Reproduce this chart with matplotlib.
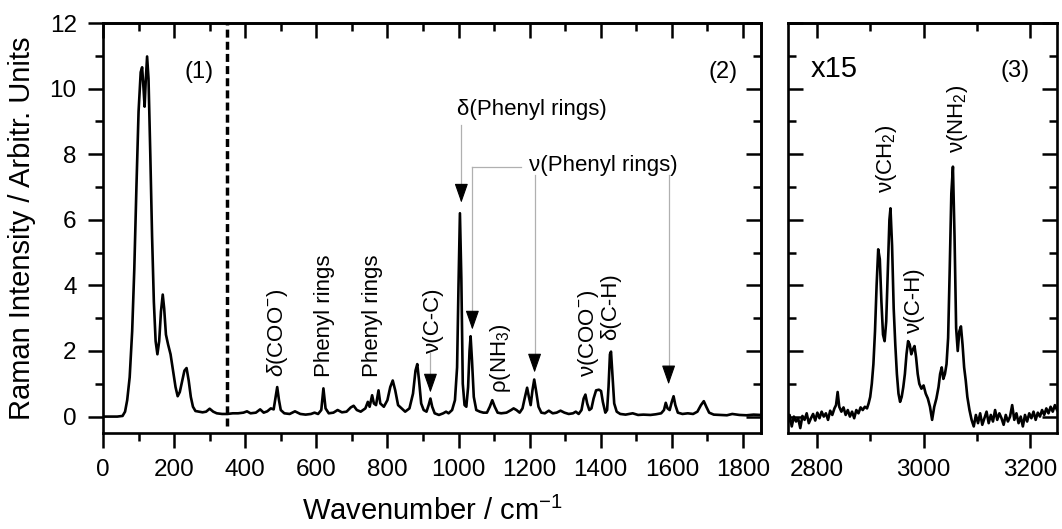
import matplotlib
matplotlib.use('Agg')
import matplotlib.pyplot as plt
from matplotlib.ticker import MultipleLocator

plt.rcParams['font.family'] = ['Liberation Sans', 'DejaVu Sans']
plt.rcParams['mathtext.fontset'] = 'custom'
plt.rcParams['mathtext.rm'] = 'Liberation Sans'
plt.rcParams['mathtext.it'] = 'Liberation Sans:italic'
plt.rcParams['axes.linewidth'] = 1.9

# Low wavenumber region
wn_low = [0, 40, 55, 62, 68, 75, 82, 88, 94, 100, 106, 110, 114, 117, 120, 124, 128, 133,
          138, 143, 148, 153, 158, 163, 168, 172, 177, 183, 190, 197, 204, 210, 216, 222,
          229, 235, 241, 247, 253, 260, 270, 280, 290, 300, 310, 320, 335, 350, 365, 380,
          395, 405, 415, 430, 442, 452, 462, 472, 480, 485, 490, 495, 500, 510, 525, 540,
          555, 570, 585, 595, 605, 614, 620, 626, 635, 648, 660, 672, 685, 697, 705, 714,
          725, 738, 745, 750, 757, 762, 768, 775, 780, 790, 800, 808, 815, 822, 830, 840,
          850, 862, 872, 879, 884, 889, 895, 902, 910, 916, 921, 926, 933, 945, 957, 965,
          972, 982, 990, 996, 1000, 1004, 1008, 1012, 1017, 1022, 1027, 1031, 1034, 1038,
          1043, 1050, 1060, 1070, 1080, 1088, 1095, 1102, 1110, 1120, 1135, 1148, 1155,
          1163, 1172, 1180, 1186, 1193, 1198, 1203, 1208, 1213, 1218, 1225, 1233, 1243,
          1254, 1265, 1276, 1287, 1298, 1310, 1322, 1330, 1338, 1346, 1352, 1357, 1362,
          1368, 1374, 1380, 1387, 1395, 1401, 1406, 1413, 1418, 1422, 1426, 1429, 1433,
          1438, 1445, 1455, 1470, 1490, 1505, 1520, 1540, 1555, 1570, 1578, 1583, 1588,
          1594, 1600, 1605, 1610, 1617, 1630, 1645, 1660, 1672, 1682, 1690, 1697, 1705,
          1718, 1735, 1755, 1770, 1790, 1810, 1830, 1850]
int_low = [0.0, 0.0, 0.02, 0.15, 0.5, 1.2, 2.6, 4.5, 7.0, 9.3, 10.5, 10.65, 10.0, 9.45, 10.2,
           10.98, 10.3, 8.0, 5.5, 3.5, 2.3, 1.9, 2.3, 3.2, 3.72, 3.3, 2.5, 2.2, 1.9, 1.4, 0.9,
           0.62, 0.75, 1.05, 1.4, 1.48, 1.1, 0.6, 0.3, 0.17, 0.15, 0.13, 0.15, 0.24, 0.15,
           0.1, 0.08, 0.08, 0.1, 0.1, 0.12, 0.16, 0.1, 0.12, 0.22, 0.12, 0.16, 0.25, 0.22,
           0.55, 0.9, 0.5, 0.2, 0.1, 0.08, 0.16, 0.08, 0.06, 0.08, 0.12, 0.08, 0.2, 0.86,
           0.25, 0.1, 0.12, 0.2, 0.13, 0.15, 0.28, 0.33, 0.2, 0.15, 0.25, 0.45, 0.3, 0.65,
           0.4, 0.35, 0.8, 0.4, 0.3, 0.5, 0.9, 1.1, 0.8, 0.35, 0.25, 0.15, 0.25, 0.7, 1.4,
           1.6, 1.1, 0.4, 0.2, 0.15, 0.35, 0.55, 0.3, 0.1, 0.05, 0.1, 0.15, 0.1, 0.2, 0.5,
           1.5, 4.0, 6.2, 4.2, 1.0, 0.35, 0.3, 0.9, 2.0, 2.45, 1.7, 0.6, 0.2, 0.15, 0.12,
           0.12, 0.3, 0.5, 0.3, 0.12, 0.1, 0.12, 0.2, 0.25, 0.2, 0.12, 0.25, 0.55, 0.88, 0.6,
           0.35, 0.8, 1.13, 0.8, 0.3, 0.12, 0.1, 0.18, 0.1, 0.12, 0.18, 0.12, 0.08, 0.1, 0.15,
           0.08, 0.2, 0.55, 0.67, 0.4, 0.2, 0.25, 0.55, 0.8, 0.82, 0.78, 0.45, 0.12, 0.2, 0.9,
           1.9, 1.98, 1.3, 0.4, 0.15, 0.08, 0.06, 0.1, 0.05, 0.06, 0.05, 0.07, 0.1, 0.2, 0.42,
           0.25, 0.2, 0.45, 0.62, 0.35, 0.12, 0.08, 0.1, 0.08, 0.15, 0.35, 0.47, 0.3, 0.12,
           0.06, 0.05, 0.04, 0.08, 0.05, 0.04, 0.06, 0.05]

# C-H / N-H stretching region, already scaled x15
wn_high = [2745, 2749, 2753, 2757, 2761, 2765, 2769, 2773, 2777, 2781, 2785, 2789, 2793, 2797,
           2801, 2805, 2809, 2813, 2817, 2821, 2825, 2829, 2833, 2836, 2839, 2842, 2846, 2850,
           2854, 2858, 2862, 2866, 2870, 2874, 2878, 2882, 2886, 2890, 2894, 2897, 2900, 2903,
           2906, 2909, 2912, 2915, 2918, 2921, 2924, 2927, 2930, 2933, 2936, 2938, 2941, 2944,
           2947, 2950, 2953, 2956, 2959, 2962, 2965, 2968, 2971, 2974, 2977, 2980, 2983, 2986,
           2989, 2992, 2996, 3000, 3004, 3008, 3012, 3016, 3020, 3024, 3028, 3031, 3034, 3037,
           3040, 3043, 3046, 3049, 3052, 3055, 3058, 3061, 3064, 3067, 3070, 3073, 3076, 3079,
           3082, 3086, 3090, 3094, 3098, 3102, 3106, 3110, 3114, 3118, 3122, 3126, 3130, 3134,
           3138, 3142, 3146, 3150, 3154, 3158, 3162, 3166, 3170, 3174, 3178, 3182, 3186, 3190,
           3194, 3198, 3202, 3206, 3210, 3214, 3218, 3222, 3226, 3230, 3234, 3238, 3242, 3246,
           3250]
int_high = [-0.25, 0.05, -0.3, 0.0, -0.15, -0.05, -0.35, 0.02, -0.1, 0.1, -0.2, -0.05, 0.08,
            -0.12, 0.12, -0.05, 0.15, 0.0, 0.1, -0.1, 0.18, 0.05, 0.25, 0.35, 0.75, 0.3, 0.15,
            0.28, 0.05, 0.2, 0.0, 0.15, -0.05, 0.2, 0.1, 0.28, 0.2, 0.3, 0.25, 0.4, 0.6, 1.0,
            1.6, 2.6, 4.0, 5.1, 4.8, 3.5, 2.5, 2.3, 2.9, 4.5, 6.0, 6.35, 5.2, 3.3, 2.2, 1.3,
            0.7, 0.45, 0.6, 0.9, 1.3, 1.9, 2.3, 2.2, 1.9, 2.05, 2.15, 1.8, 1.3, 1.0, 0.85, 0.95,
            0.7, 0.55, 0.3, -0.1, 0.3, 0.55, 0.9, 1.3, 1.5, 1.15, 1.3, 1.6, 2.4, 4.5, 6.8, 7.62,
            5.5, 2.7, 2.0, 2.6, 2.75, 2.2, 1.5, 1.1, 0.6, 0.2, -0.1, -0.3, 0.05, -0.2, 0.1,
            -0.25, -0.05, 0.15, -0.2, 0.05, -0.15, 0.2, -0.1, 0.1, -0.05, -0.25, 0.05, -0.15,
            0.0, 0.35, -0.1, 0.1, -0.2, 0.0, -0.3, 0.05, -0.15, 0.1, -0.05, 0.15, -0.1, 0.12,
            0.0, 0.2, 0.05, 0.25, 0.1, 0.3, 0.15, 0.35, 0.2]

# rotated peak labels: (text, x, bottom y)
low_labels = [(r'$\delta$(COO$^{-}$)', 490, 1.2), ('Phenyl rings', 622, 1.2),
              ('Phenyl rings', 757, 1.2), ('ν(C-C)', 930, 1.95),
              ('ρ(NH$_3$)', 1118, 0.73), ('ν(COO$^{-}$)', 1366, 1.22),
              ('δ(C-H)', 1428, 2.35)]
high_labels = [('ν(CH$_2$)', 2930, 6.83), ('ν(C-H)', 2982, 2.56), ('ν(NH$_2$)', 3064, 8.05)]
# arrows: (x, top of grey line, arrow tip)
arrows = [(921, 1.95, 0.73), (1008, 8.9, 6.52), (1039, 7.62, 2.65),
          (1214, 7.38, 1.34), (1591, 7.38, 0.98)]

fig = plt.figure(figsize=(10.62, 5.29), dpi=100)
ax1 = fig.add_axes([0.097, 0.1815, 0.6196, 0.775])
ax2 = fig.add_axes([0.742, 0.1815, 0.2533, 0.775])

FS_TICK = 17.5
FS_LAB = 21
FS_ANN = 16

for ax in (ax1, ax2):
    ax.set_ylim(-0.5, 12)
    ax.yaxis.set_major_locator(MultipleLocator(2))
    ax.yaxis.set_minor_locator(MultipleLocator(1))
    ax.tick_params(which='both', width=1.8, labelsize=FS_TICK, pad=8)
    ax.tick_params(which='major', length=11)
    ax.tick_params(which='minor', length=6)
    ax.tick_params(axis='x', direction='out')
    top = ax.secondary_xaxis('top')
    top.xaxis.set_major_locator(MultipleLocator(200))
    top.xaxis.set_minor_locator(MultipleLocator(100))
    top.tick_params(which='both', direction='in', width=1.8, labeltop=False)
    top.tick_params(which='major', length=11)
    top.tick_params(which='minor', length=6)

ax1.set_xlim(0, 1851)
ax1.xaxis.set_major_locator(MultipleLocator(200))
ax1.xaxis.set_minor_locator(MultipleLocator(100))
ax1.tick_params(axis='y', which='both', direction='out')
right = ax1.secondary_yaxis('right')
right.yaxis.set_major_locator(MultipleLocator(2))
right.yaxis.set_minor_locator(MultipleLocator(1))
right.tick_params(which='both', direction='in', width=1.8, labelright=False)
right.tick_params(which='major', length=11)
right.tick_params(which='minor', length=6)

ax2.set_xlim(2746, 3250)
ax2.xaxis.set_major_locator(MultipleLocator(200))
ax2.xaxis.set_minor_locator(MultipleLocator(100))
ax2.tick_params(axis='y', which='both', direction='in', left=True, right=True, labelleft=False)

ax1.plot(wn_low, int_low, color='black', lw=1.9)
ax2.plot(wn_high, int_high, color='black', lw=1.9)

ax1.plot([350, 350], [-0.3, 12], color='black', lw=2.5, dashes=(2.3, 1.2))

ax1.text(270, 10.5, '(1)', fontsize=17, ha='center', va='center')
ax1.text(1744, 10.5, '(2)', fontsize=17, ha='center', va='center')
ax2.text(2789, 10.6, 'x15', fontsize=21, ha='left', va='center')
ax2.text(3172, 10.55, '(3)', fontsize=17, ha='center', va='center')

for txt, x, y in low_labels:
    ax1.text(x, y, txt, rotation=90, ha='center', va='bottom', fontsize=FS_ANN)
for txt, x, y in high_labels:
    ax2.text(x, y, txt, rotation=90, ha='center', va='bottom', fontsize=FS_ANN)

ax1.text(997, 9.36, 'δ(Phenyl rings)', fontsize=FS_ANN, ha='left', va='center')
ax1.text(1197, 7.65, 'ν(Phenyl rings)', fontsize=FS_ANN, ha='left', va='center')
# elbow connector to the 1035 band
ax1.plot([1039, 1175], [7.62, 7.62], color='#b0b0b0', lw=0.9)

for x, y0, tip in arrows:
    head = tip + 0.5
    ax1.plot([x, x], [y0, head], color='#b0b0b0', lw=0.9)
    ax1.annotate('', xy=(x, tip), xytext=(x, head + 0.02),
                 arrowprops=dict(arrowstyle='-|>,head_length=1.2,head_width=0.42',
                                 color='black', lw=0.8, shrinkA=0, shrinkB=0,
                                 mutation_scale=10))

ax1.set_ylabel('Raman Intensity / Arbitr. Units', fontsize=FS_LAB, labelpad=10)
ax1.set_xlabel('Wavenumber / cm$^{-1}$', fontsize=FS_LAB, labelpad=11)

fig.savefig('out.png', dpi=100)
